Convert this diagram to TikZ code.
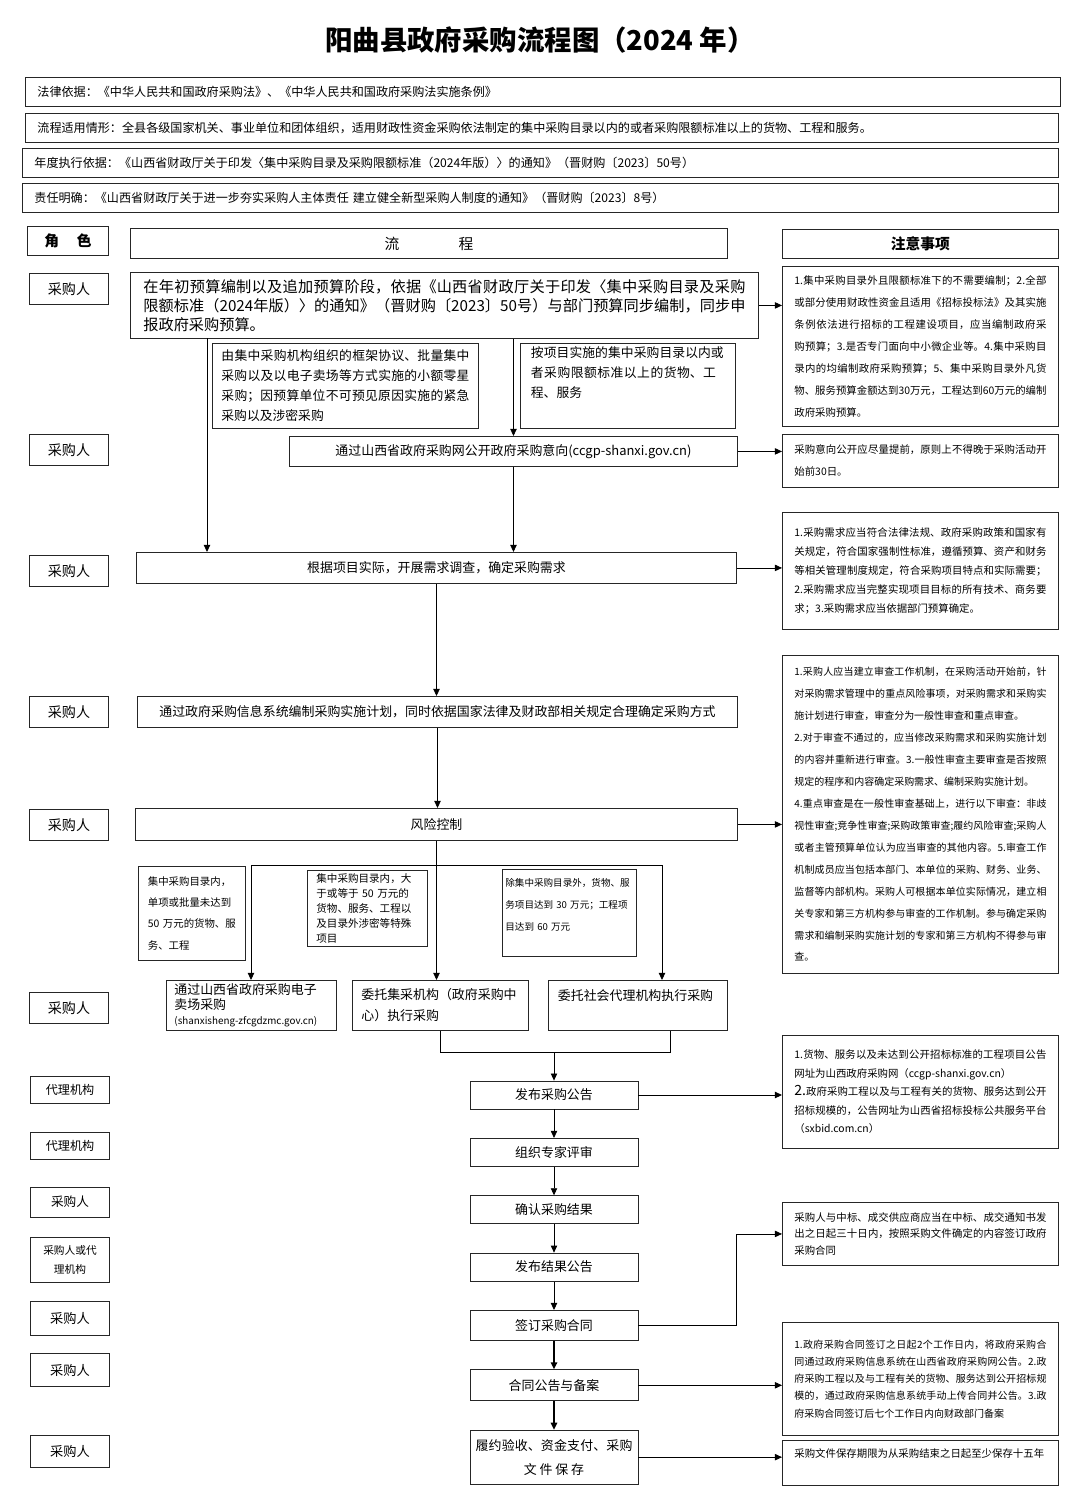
\documentclass[tikz,border=0pt]{standalone}
\usepackage{fontspec}
\setmainfont{Noto Sans CJK SC}
\XeTeXlinebreaklocale "zh"
\XeTeXlinebreakskip=0pt plus 1pt
\usepackage{tikz}
\usetikzlibrary{positioning, calc, arrows.meta}

\begin{document}
\begin{tikzpicture}[
    x=0.025cm, y=-0.025cm,
    box/.style={draw=black!85, line width=0.6pt, inner sep=0pt, fill=white},
    hdr/.style={box, anchor=north west, minimum height=0.725cm, align=left, font=\fontsize{8.6}{10}\selectfont},
    colhead/.style={box, anchor=north west, font=\bfseries\fontsize{10.5}{12}\selectfont},
    role/.style={box, minimum width=1.975cm, minimum height=0.775cm, align=center, font=\fontsize{10}{12}\selectfont},
    flow/.style={box, anchor=north west, align=center, font=\fontsize{9.2}{11}\selectfont},
    cond/.style={box, anchor=north west, align=left},
    note/.style={box, anchor=north west, minimum width=6.9cm, text width=6.3cm, align=justify, font=\fontsize{7.4}{15.6}\selectfont},
    stepbox/.style={box, minimum width=4.2cm, minimum height=0.7cm, align=center, font=\fontsize{9.2}{11}\selectfont},
    arr/.style={-{Triangle[length=5pt,width=4.5pt]}, line width=0.6pt},
    node distance=0.7125cm
  ]
  \fill[white] (0,0) rectangle (1080,1499);
  \useasboundingbox (0,0) rectangle (1080,1499);

  % title and basis rows
  \node[font=\bfseries\fontsize{19.5}{22}\selectfont] (title) at (540,40) {阳曲县政府采购流程图（2024 年）};
  \node[hdr, minimum width=25.875cm, text width=25.275cm] (law) at (25,77) {法律依据：《中华人民共和国政府采购法》、《中华人民共和国政府采购法实施条例》};
  \node[hdr, minimum width=25.825cm, text width=25.225cm] (scope) at (25,113) {流程适用情形：全县各级国家机关、事业单位和团体组织，适用财政性资金采购依法制定的集中采购目录以内的或者采购限额标准以上的货物、工程和服务。};
  \node[hdr, minimum width=25.9cm, text width=25.3cm] (basis) at (22,148) {年度执行依据：《山西省财政厅关于印发〈集中采购目录及采购限额标准（2024年版）〉的通知》（晋财购〔2023〕50号）};
  \node[hdr, minimum width=25.9cm, text width=25.3cm] (duty) at (22,183) {责任明确：《山西省财政厅关于进一步夯实采购人主体责任 建立健全新型采购人制度的通知》（晋财购〔2023〕8号）};

  % column heads
  \node[colhead, minimum width=2.025cm, minimum height=0.725cm] (hrole) at (27,226) {角\hspace{1.2em}色};
  \node[colhead, minimum width=14.925cm, minimum height=0.75cm, font=\fontsize{10.5}{12}\selectfont] (hflow) at (130,228) {流\hspace{4em}程};
  \node[colhead, minimum width=6.9cm, minimum height=0.725cm] (hnote) at (782,229) {注意事项};

  % roles
  \node[role] (r1) at (69,289) {采购人};
  \node[role] (r2) at (69,450) {采购人};
  \node[role] (r3) at (69,571) {采购人};
  \node[role] (r4) at (69,712) {采购人};
  \node[role] (r5) at (69,825) {采购人};
  \node[role] (r6) at (69,1008) {采购人};
  \node[role, minimum height=0.675cm, font=\fontsize{8.6}{10}\selectfont] (r7) at (70,1090) {代理机构};
  \node[role, minimum height=0.675cm, font=\fontsize{8.6}{10}\selectfont] (r8) at (70,1146) {代理机构};
  \node[role, minimum height=0.75cm, font=\fontsize{9}{11}\selectfont] (r9) at (70,1202) {采购人};
  \node[role, minimum height=1.125cm, font=\fontsize{7.6}{13}\selectfont] (r10) at (70,1260) {采购人或代\\理机构};
  \node[role, minimum height=0.85cm, font=\fontsize{9.4}{11}\selectfont] (r11) at (70,1318) {采购人};
  \node[role, minimum height=0.825cm, font=\fontsize{9.4}{11}\selectfont] (r12) at (70,1370) {采购人};
  \node[role, minimum height=0.8cm, font=\fontsize{9.4}{11}\selectfont] (r13) at (70,1451) {采购人};

  % process column
  \node[flow, minimum width=15.7cm, minimum height=1.65cm, text width=15.05cm, align=justify, font=\fontsize{10.8}{13.6}\selectfont] (budget) at (130,272) {在年初预算编制以及追加预算阶段，依据《山西省财政厅关于印发〈集中采购目录及采购限额标准（2024年版）〉的通知》（晋财购〔2023〕50号）与部门预算同步编制，同步申报政府采购预算。};
  \node[flow, minimum width=6.65cm, minimum height=2.125cm, text width=6.2cm, align=justify, font=\fontsize{9.1}{14.2}\selectfont] (subL) at (212,343) {由集中采购机构组织的框架协议、批量集中采购以及以电子卖场等方式实施的小额零星采购；因预算单位不可预见原因实施的紧急采购以及涉密采购};
  \node[flow, minimum width=5.375cm, minimum height=2.125cm, text width=4.85cm, align=left, font=\fontsize{9.1}{14.2}\selectfont] (subR) at (520,343) {按项目实施的集中采购目录以内或者采购限额标准以上的货物、工程、服务\\[6pt]\mbox{}};
  \node[flow, minimum width=11.2cm, minimum height=0.75cm] (intent) at (289,436) {通过山西省政府采购网公开政府采购意向(ccgp-shanxi.gov.cn)};
  \node[flow, minimum width=15cm, minimum height=0.775cm] (demand) at (136,552) {根据项目实际，开展需求调查，确定采购需求};
  \node[flow, minimum width=15cm, minimum height=0.775cm] (plan) at (137,696) {通过政府采购信息系统编制采购实施计划，同时依据国家法律及财政部相关规定合理确定采购方式};
  \node[flow, minimum width=15.05cm, minimum height=0.8cm] (risk) at (135,808) {风险控制};

  \node[cond, minimum width=2.675cm, minimum height=2.35cm, text width=2.2cm, font=\fontsize{7.4}{15}\selectfont] (cond1) at (138,866) {集中采购目录内，\\单项或批量未达到\\50 万元的货物、服\\务、工程};
  \node[cond, minimum width=3cm, minimum height=1.9cm, text width=2.55cm, font=\fontsize{7.5}{10.8}\selectfont] (cond2) at (307,870) {集中采购目录内，大\\于或等于 50 万元的\\货物、服务、工程以\\及目录外涉密等特殊\\项目};
  \node[cond, minimum width=3.35cm, minimum height=2.175cm, text width=3.2cm, font=\fontsize{6.8}{15.6}\selectfont] (cond3) at (502,869) {除集中采购目录外，货物、服\\务项目达到 30 万元；工程项\\目达到 60 万元\\[-4pt]\mbox{}};

  \node[flow, minimum width=4.25cm, minimum height=1.25cm, text width=3.85cm, align=left, font=\fontsize{9.2}{10.5}\selectfont] (exec1) at (166,980) {通过山西省政府采购电子\\卖场采购\\{\fontsize{7}{9}\selectfont (shanxisheng-zfcgdzmc.gov.cn)}};
  \node[flow, minimum width=4.4cm, minimum height=1.25cm, text width=3.95cm, align=left, font=\fontsize{9.2}{15}\selectfont] (exec2) at (352,980) {委托集采机构（政府采购中\\心）执行采购};
  \node[flow, minimum width=4.475cm, minimum height=1.25cm, text width=4.0cm, align=left, font=\fontsize{9.2}{15}\selectfont] (exec3) at (548,980) {委托社会代理机构执行采购\\\mbox{}};

  \node[stepbox] (pub) at (554,1095) {发布采购公告};
  \node[stepbox, below=of pub] (review) {组织专家评审};
  \node[stepbox, below=of review] (confirm) {确认采购结果};
  \node[stepbox, below=of confirm] (result) {发布结果公告};
  \node[stepbox, below=of result, minimum height=0.75cm] (sign) {签订采购合同};
  \node[stepbox, below=of sign, minimum height=0.775cm] (contract) {合同公告与备案};
  \node[stepbox, below=of contract, minimum height=1.35cm, text width=4.1cm, font=\fontsize{9.2}{17}\selectfont] (perform) {履约验收、资金支付、采购\\文件保存};

  % notes
  \node[note, minimum height=4cm] (n1) at (782,266) {1.集中采购目录外且限额标准下的不需要编制；2.全部或部分使用财政性资金且适用《招标投标法》及其实施条例依法进行招标的工程建设项目，应当编制政府采购预算；3.是否专门面向中小微企业等。4.集中采购目录内的均编制政府采购预算；5、集中采购目录外凡货物、服务预算金额达到30万元，工程达到60万元的编制政府采购预算。};
  \node[note, minimum height=1.325cm] (n2) at (782,434) {采购意向公开应尽量提前，原则上不得晚于采购活动开始前30日。};
  \node[note, minimum height=2.925cm, font=\fontsize{7.4}{13.5}\selectfont] (n3) at (782,512) {1.采购需求应当符合法律法规、政府采购政策和国家有关规定，符合国家强制性标准，遵循预算、资产和财务等相关管理制度规定，符合采购项目特点和实际需要；2.采购需求应当完整实现项目目标的所有技术、商务要求；3.采购需求应当依据部门预算确定。};
  \node[note, minimum height=7.95cm, font=\fontsize{7.1}{15.6}\selectfont] (n4) at (782,655) {1.采购人应当建立审查工作机制，在采购活动开始前，针对采购需求管理中的重点风险事项，对采购需求和采购实施计划进行审查，审查分为一般性审查和重点审查。\\2.对于审查不通过的，应当修改采购需求和采购实施计划的内容并重新进行审查。3.一般性审查主要审查是否按照规定的程序和内容确定采购需求、编制采购实施计划。\\4.重点审查是在一般性审查基础上，进行以下审查：非歧视性审查;竞争性审查;采购政策审查;履约风险审查;采购人或者主管预算单位认为应当审查的其他内容。5.审查工作机制成员应当包括本部门、本单位的采购、财务、业务、监督等内部机构。采购人可根据本单位实际情况，建立相关专家和第三方机构参与审查的工作机制。参与确定采购需求和编制采购实施计划的专家和第三方机构不得参与审查。};
  \node[note, minimum height=2.825cm, font=\fontsize{7.4}{13.2}\selectfont] (n5) at (782,1035) {1.货物、服务以及未达到公开招标标准的工程项目公告网址为山西政府采购网（ccgp-shanxi.gov.cn）\\{\fontsize{10}{13.2}\selectfont 2.}政府采购工程以及与工程有关的货物、服务达到公开招标规模的，公告网址为山西省招标投标公共服务平台（sxbid.com.cn）};
  \node[note, minimum height=1.575cm, font=\fontsize{7.4}{11.8}\selectfont] (n6) at (782,1202) {采购人与中标、成交供应商应当在中标、成交通知书发出之日起三十日内，按照采购文件确定的内容签订政府采购合同};
  \node[note, minimum height=2.825cm, font=\fontsize{7.1}{12.2}\selectfont] (n7) at (782,1322) {1.政府采购合同签订之日起2个工作日内，将政府采购合同通过政府采购信息系统在山西省政府采购网公告。2.政府采购工程以及与工程有关的货物、服务达到公开招标规模的，通过政府采购信息系统手动上传合同并公告。3.政府采购合同签订后七个工作日内向财政部门备案};
  \node[note, minimum height=1.125cm, font=\fontsize{7.4}{12}\selectfont] (n8) at (782,1440) {采购文件保存期限为从采购结束之日起至少保存十五年\\[2pt]\mbox{}};

  % main flow
  \coordinate (bleft) at (207,338);
  \draw[arr] (bleft) -- (bleft |- demand.north);
  \draw[arr] (intent.north |- budget.south) -- (intent.north);
  \draw[arr] (intent.south) -- (intent.south |- demand.north);
  \draw[arr] (demand.south) -- (demand.south |- plan.north);
  \draw[arr] (plan.south) -- (plan.south |- risk.north);

  % branches after risk control
  \coordinate (busL) at (251,865);
  \coordinate (busR) at (662,865);
  \draw[line width=0.6pt] (risk.south) -- (risk.south |- busL);
  \draw[line width=0.6pt] (busL) -- (busR);
  \draw[arr] (busL) -- (busL |- exec1.north);
  \draw[arr] (risk.south |- busL) -- (risk.south |- exec2.north);
  \draw[arr] (busR) -- (busR |- exec3.north);

  % join into announcement
  \coordinate (joinL) at (440,1052);
  \coordinate (joinR) at (670,1052);
  \draw[line width=0.6pt] (joinL |- exec2.south) -- (joinL) -- (joinR) -- (joinR |- exec3.south);
  \draw[arr] (pub.north |- joinL) -- (pub.north);

  \draw[arr] (pub) -- (review);
  \draw[arr] (review) -- (confirm);
  \draw[arr] (confirm) -- (result);
  \draw[arr] (result) -- (sign);
  \draw[arr, line width=1.3pt] (sign) -- (contract);
  \draw[arr, line width=1.3pt] (contract) -- (perform);

  % to notes
  \draw[arr] (budget.east) -- (budget.east -| n1.west);
  \draw[arr] (intent.east) -- (intent.east -| n2.west);
  \draw[arr] (demand.east) -- (demand.east -| n3.west);
  \draw[arr] (risk.east) -- (risk.east -| n4.west);
  \draw[arr] (pub.east) -- (pub.east -| n5.west);
  \draw[arr] (sign.east) -- ++(98,0) |- (n6.west);
  \draw[arr] (contract.east) -- (contract.east -| n7.west);
  \draw[arr] (perform.east) -- (perform.east -| n8.west);
\end{tikzpicture}
\end{document}
